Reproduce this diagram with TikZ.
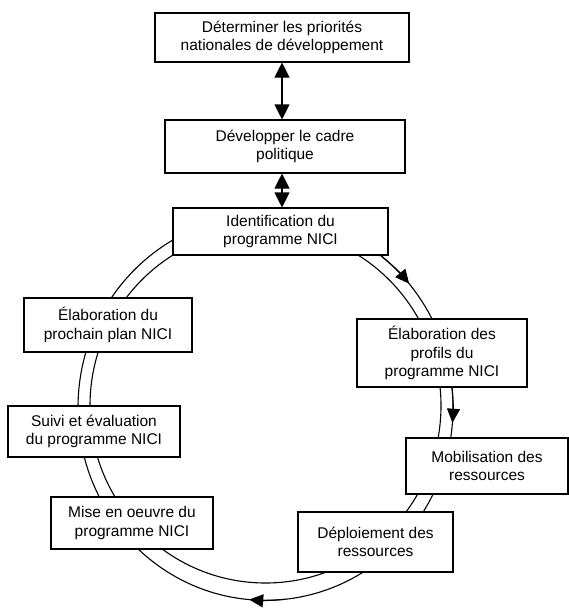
\documentclass[tikz,border=0pt]{standalone}
\usepackage{fontspec}
\setmainfont{Liberation Sans}
\usetikzlibrary{arrows.meta}
\tikzset{
  box/.style={draw, fill=white, line width=1.1pt, inner sep=0pt, align=center,
    font=\fontsize{15.5}{18.7}\selectfont},
  conn/.style={line width=1.1pt},
  tipend/.style={-{Triangle[length=14pt,width=13pt]}, line width=1.1pt},
  bothtips/.style={{Triangle[length=15pt,width=15pt]}-{Triangle[length=15pt,width=15pt]}, line width=1.1pt}
}
\begin{document}
\begin{tikzpicture}[x=1pt,y=-1pt]
\useasboundingbox (0,0) rectangle (569,610);
% cycle rings
\coordinate (co) at (265.5,407.6);
\coordinate (ci) at (265.5,405.7);
\draw[conn] (co) ellipse [x radius=187.5, y radius=192.7];
\draw[conn] (ci) ellipse [x radius=175.5, y radius=177.3];
% arrowheads on outer ring
\draw[tipend] (co) ++(-52:187.5 and 192.7) arc[start angle=-52, end angle=-40, x radius=187.5, y radius=192.7];
\draw[tipend] (co) ++(-6:187.5 and 192.7) arc[start angle=-6, end angle=4.5, x radius=187.5, y radius=192.7];
\draw[tipend] (co) ++(84:187.5 and 192.7) arc[start angle=84, end angle=95, x radius=187.5, y radius=192.7];
% boxes
\node[box, minimum width=254, minimum height=49] (prio) at (282,37.5) {Déterminer les priorités\\nationales de développement};
\node[box, minimum width=240, minimum height=53] (cadre) at (285,146.5) {Développer le cadre\\politique};
\node[box, minimum width=215, minimum height=47] (ident) at (280.5,231.5) {Identification du\\programme NICI};
\node[box, minimum width=170, minimum height=68] (profils) at (442,353) {Élaboration des\\profils du\\programme NICI};
\node[box, minimum width=162, minimum height=56] (mobil) at (487,466) {Mobilisation des\\ressources};
\node[box, minimum width=155, minimum height=60] (deploi) at (375.5,542) {Déploiement des\\ressources};
\node[box, minimum width=162, minimum height=52] (mise) at (132,523) {Mise en oeuvre du\\programme NICI};
\node[box, minimum width=172, minimum height=51] (suivi) at (94,431.5) {Suivi et évaluation\\du programme NICI};
\node[box, minimum width=168, minimum height=54] (prochain) at (108,325) {Élaboration du\\prochain plan NICI};
% double arrows
\draw[bothtips] (prio.south) -- (prio.south |- cadre.north);
\draw[bothtips] (prio.south |- cadre.south) -- (prio.south |- ident.north);
\end{tikzpicture}
\end{document}
